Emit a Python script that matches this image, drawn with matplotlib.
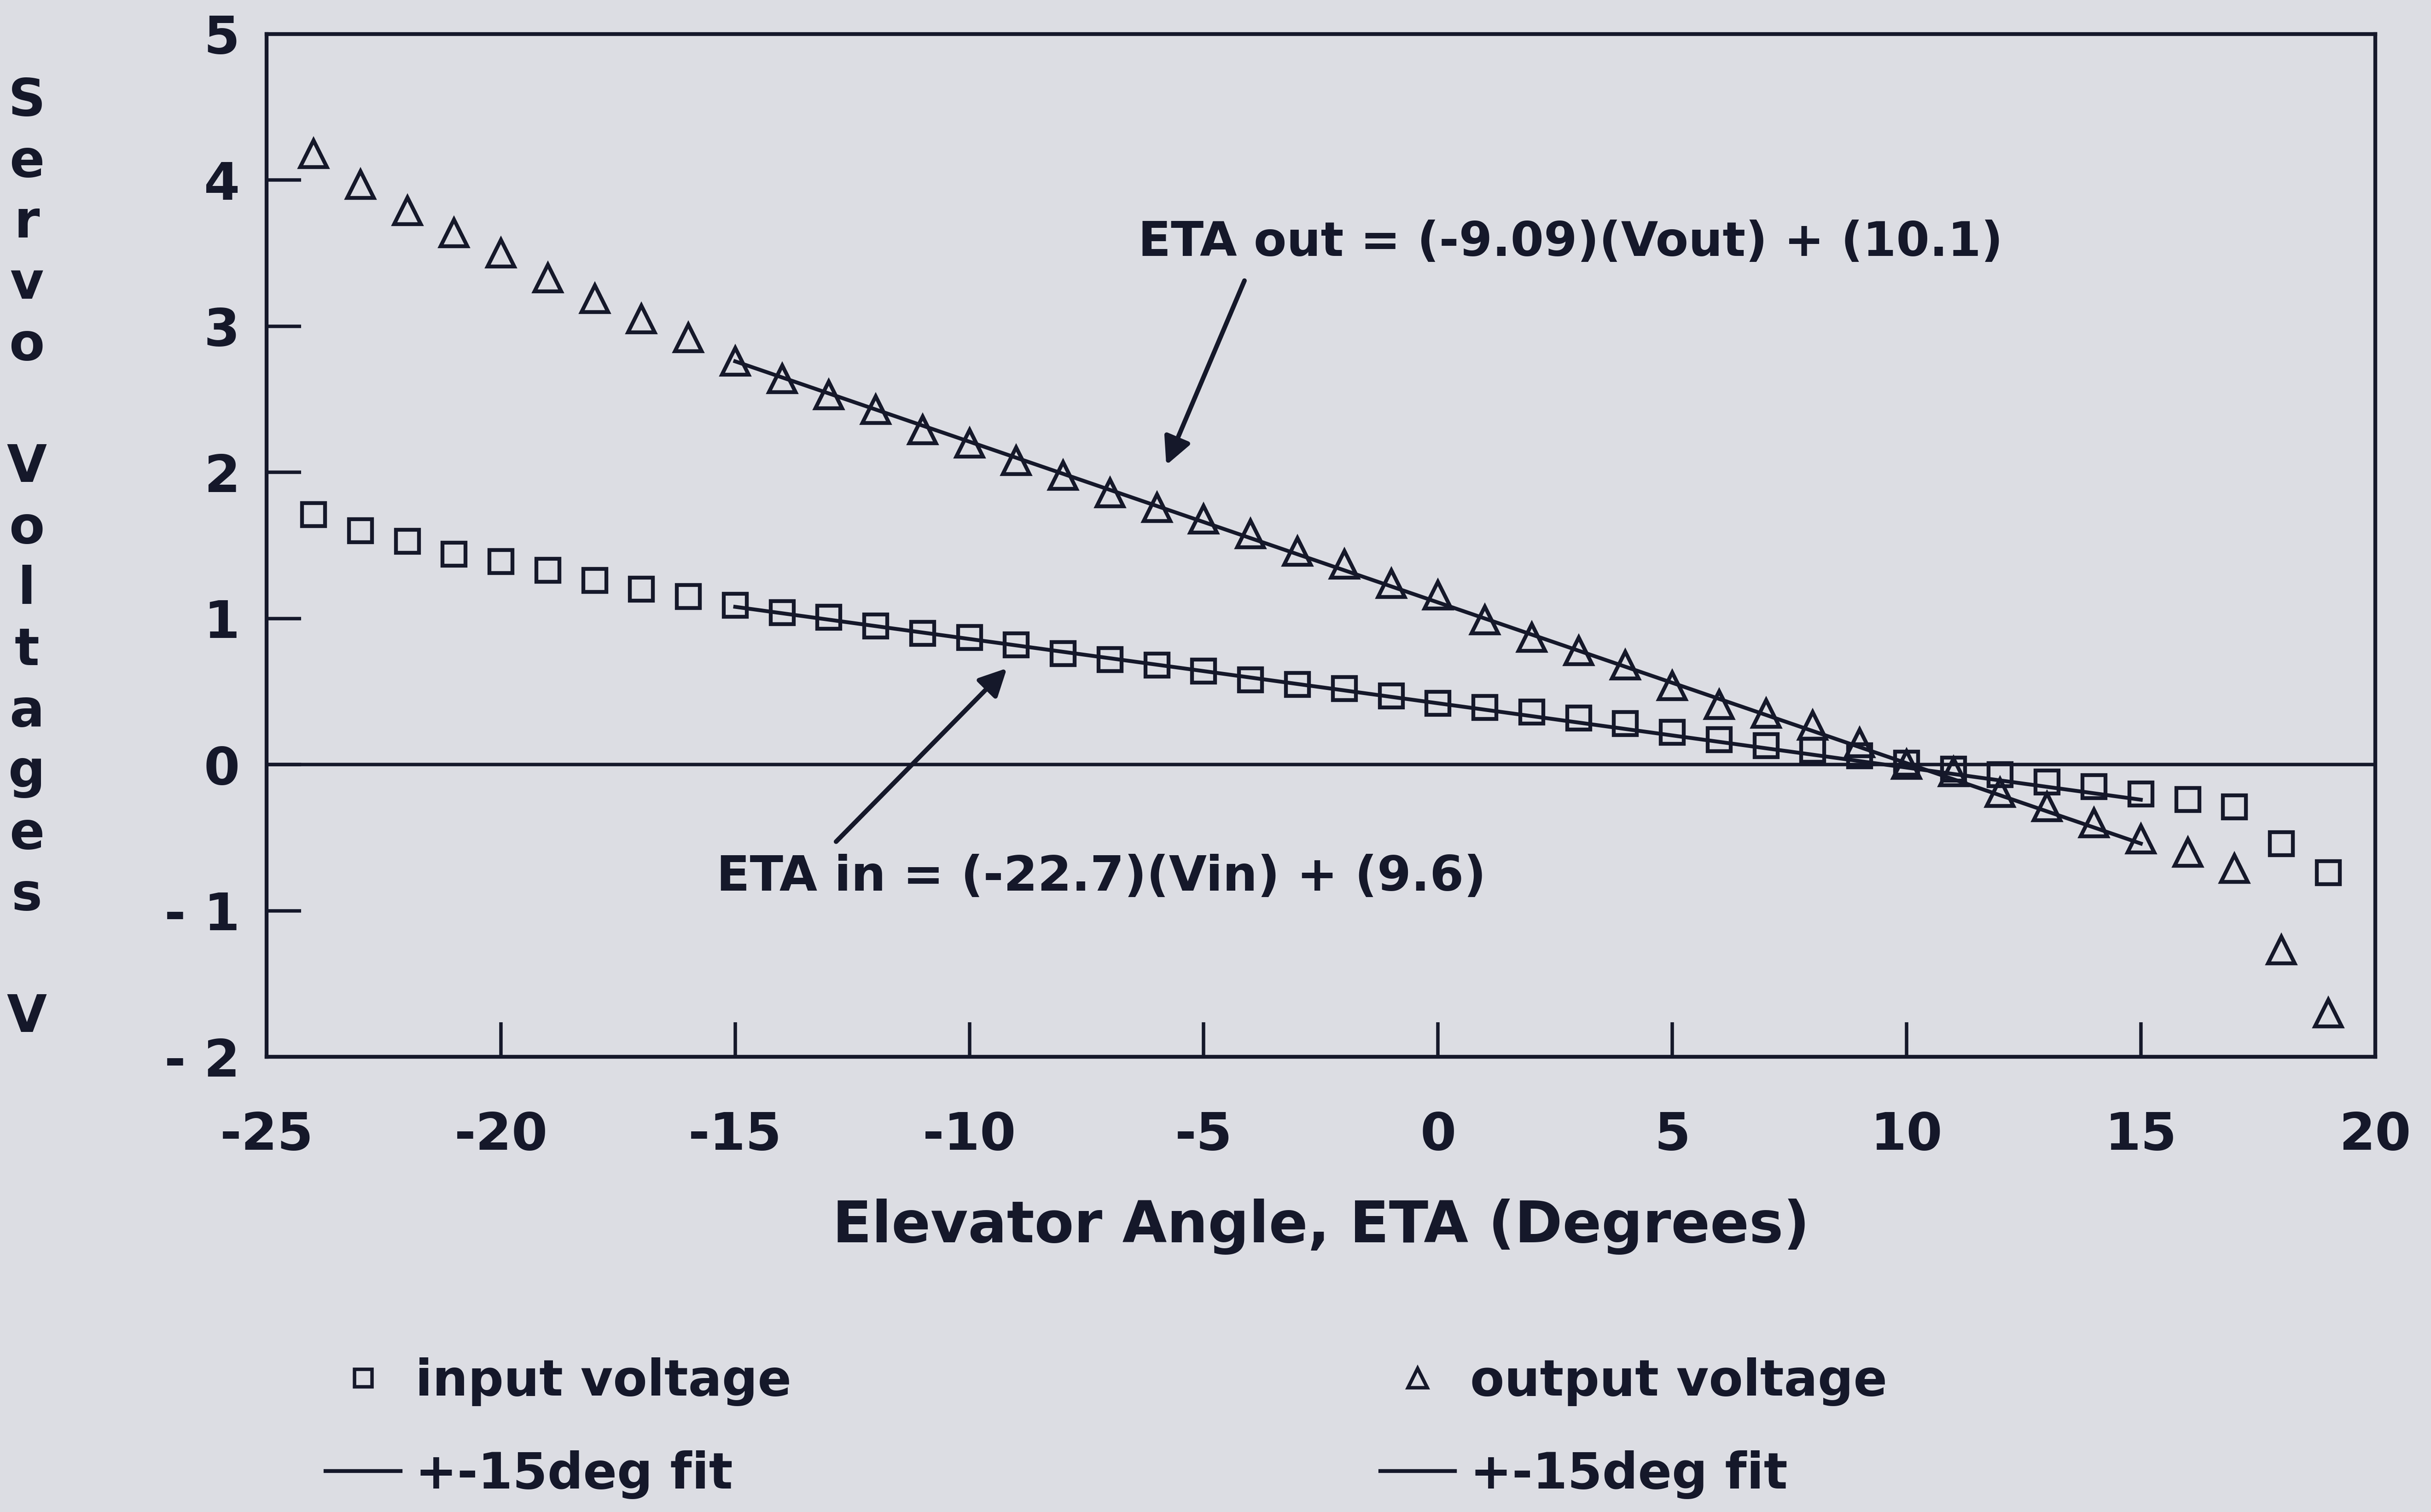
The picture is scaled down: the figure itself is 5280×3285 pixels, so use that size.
import matplotlib
matplotlib.use("Agg")
import matplotlib.pyplot as plt
from matplotlib.lines import Line2D

# angle values (degrees)
eta = [-24, -23, -22, -21, -20, -19, -18, -17, -16, -15, -14, -13, -12, -11, -10,
       -9, -8, -7, -6, -5, -4, -3, -2, -1, 0, 1, 2, 3, 4, 5, 6, 7, 8, 9, 10,
       11, 12, 13, 14, 15, 16, 17, 18, 19]

v_in = [1.71, 1.60, 1.53, 1.44, 1.39, 1.33, 1.26, 1.20, 1.15, 1.09, 1.04, 1.01, 0.95, 0.90, 0.87,
        0.82, 0.76, 0.72, 0.68, 0.64, 0.58, 0.55, 0.52, 0.47, 0.42, 0.39, 0.36, 0.32, 0.28, 0.22,
        0.17, 0.13, 0.10, 0.06, 0.01, -0.03, -0.07, -0.12, -0.15, -0.20, -0.24, -0.29, -0.54, -0.74]

v_out = [4.18, 3.97, 3.79, 3.64, 3.50, 3.33, 3.19, 3.05, 2.92, 2.76, 2.64, 2.53, 2.43, 2.29, 2.20,
         2.08, 1.98, 1.86, 1.76, 1.68, 1.58, 1.46, 1.37, 1.24, 1.16, 0.99, 0.87, 0.78, 0.68, 0.54,
         0.41, 0.35, 0.27, 0.15, 0.00, -0.05, -0.19, -0.29, -0.40, -0.51, -0.60, -0.71, -1.27, -1.70]

# +-15 deg linear fits (end points)
fit_x = [-15, 15]
fit_in = [1.08, -0.24]
fit_out = [2.76, -0.54]

xticks = [-25, -20, -15, -10, -5, 0, 5, 10, 15, 20]
yticks = [-2, -1, 0, 1, 2, 3, 4, 5]
ytick_labels = ['- 2', '- 1', '0', '1', '2', '3', '4', '5']

bg = '#dcdde3'
ink = '#15182a'

plt.rcParams['font.family'] = ['DejaVu Sans']
plt.rcParams['font.weight'] = 'bold'
plt.rcParams['axes.unicode_minus'] = False
plt.rcParams['text.color'] = ink
plt.rcParams['axes.labelcolor'] = ink
plt.rcParams['xtick.color'] = ink
plt.rcParams['ytick.color'] = ink

fig = plt.figure(figsize=(17.6, 10.95), dpi=300, facecolor=bg)
ax = fig.add_axes([0.1097, 0.301, 0.8673, 0.6765], facecolor=bg)

ax.axhline(0, color=ink, lw=1.8)

ax.plot(fit_x, fit_in, color=ink, lw=2.0)
ax.plot(fit_x, fit_out, color=ink, lw=2.0)
ax.plot(eta, v_in, ls='none', marker='s', ms=12, mfc='none', mec=ink, mew=2.0)
ax.plot(eta, v_out, ls='none', marker='^', ms=14, mfc='none', mec=ink, mew=2.0)

ax.set_xlim(-25, 20)
ax.set_ylim(-2, 5)
ax.set_xticks(xticks)
ax.set_yticks(yticks)
ax.set_yticklabels(ytick_labels)
ax.tick_params(axis='x', direction='in', length=18, width=1.8, labelsize=27, pad=28)
ax.tick_params(axis='y', direction='in', length=18, width=1.8, labelsize=27, pad=14)
for s in ax.spines.values():
    s.set_color(ink)
    s.set_linewidth(2.0)

ax.set_xlabel('Elevator Angle, ETA (Degrees)', fontsize=30, fontweight='bold', labelpad=20)

# stacked vertical y label
fig.text(0.011, 0.63, 'S\ne\nr\nv\no\n\nV\no\nl\nt\na\ng\ne\ns\n\nV', ha='center', va='center',
         fontsize=27, fontweight='bold', linespacing=1.29)

# equation annotations
ax.annotate('ETA out = (-9.09)(Vout) + (10.1)', xy=(-5.8, 2.05), xytext=(-6.4, 3.57),
            fontsize=25, fontweight='bold', va='center', ha='left',
            arrowprops=dict(arrowstyle='-|>', color=ink, lw=2.4, mutation_scale=30,
                            relpos=(0.13, 0.0), shrinkA=6, shrinkB=0))
ax.annotate('ETA in = (-22.7)(Vin) + (9.6)', xy=(-9.2, 0.66), xytext=(-15.4, -0.77),
            fontsize=25.5, fontweight='bold', va='center', ha='left',
            arrowprops=dict(arrowstyle='-|>', color=ink, lw=2.4, mutation_scale=30,
                            relpos=(0.14, 1.0), shrinkA=6, shrinkB=0))

handles = [
    Line2D([], [], ls='none', marker='s', ms=9, mfc='none', mec=ink, mew=1.8),
    Line2D([], [], color=ink, lw=2.0),
    Line2D([], [], ls='none', marker='^', ms=10, mfc='none', mec=ink, mew=1.8),
    Line2D([], [], color=ink, lw=2.0),
]
labels = ['input voltage', '+-15deg fit', 'output voltage', '+-15deg fit']
fig.legend(handles, labels, ncol=2, loc='upper left', bbox_to_anchor=(0.1155, 0.132),
           frameon=False, fontsize=26, handlelength=1.5, handletextpad=0.3,
           columnspacing=11.8, labelspacing=0.89)

fig.savefig('out.png', dpi=300, facecolor=bg)
